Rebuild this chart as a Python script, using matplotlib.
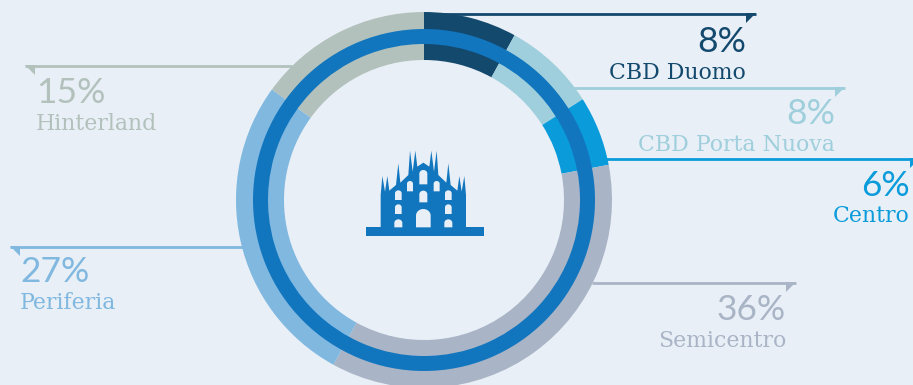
import matplotlib
matplotlib.use("Agg")
import matplotlib.pyplot as plt
from matplotlib.patches import Polygon, Rectangle
import numpy as np

# Share of the total per Milan district, clockwise from twelve o'clock
districts = ["CBD Duomo", "CBD Porta Nuova", "Centro", "Semicentro", "Periferia", "Hinterland"]
shares = [8, 8, 6, 36, 27, 15]
share_labels = ["8%", "8%", "6%", "36%", "27%", "15%"]
colors = ["#14496e", "#9fcfdc", "#0a9bdb", "#a9b4c6", "#80b8e0", "#b2c1bc"]

BG = "#e8eff6"
BLUE = "#1276bf"
H = 385
FONT = "DejaVu Serif"

fig = plt.figure(figsize=(9.13, 3.85), dpi=100, facecolor=BG)
ax = fig.add_axes([0, 0, 1, 1])
ax.set_facecolor(BG)

# Segmented ring with a solid band running through it
center = (424, H - 200)
ax.pie(shares, colors=colors, radius=188, center=center, startangle=90,
       counterclock=False, wedgeprops=dict(width=48, linewidth=0), frame=True)
ax.pie([1], colors=[BLUE], radius=171, center=center, startangle=90,
       wedgeprops=dict(width=15, linewidth=0), frame=True)
ax.set_xlim(0, 913)
ax.set_ylim(0, H)
ax.set_aspect("equal")
ax.axis("off")

# Leader line (x0, x1, y) and the direction of its end flag, per district
leaders = [(424, 756, 14, -1), (573, 845, 88, -1), (606, 920, 159, -1),
           (592, 796, 283, -1), (10, 243, 247, 1), (25, 292, 65.5, 1)]
for color, (x0, x1, y, side) in zip(colors, leaders):
    ax.plot([x0, x1], [H - y, H - y], color=color, lw=2.0, solid_capstyle="butt", zorder=1)
    tip = x1 if side < 0 else x0
    ax.add_patch(Polygon([(tip, H - y + 1), (tip + side * 10, H - y + 1),
                          (tip + side * 10, H - y - 9)], closed=True, fc=color, lw=0))

# Value and name next to each leader: anchor x, value baseline, name baseline
label_pos = [(746, 52, 79, "right"), (835, 124, 151, "right"), (910, 196, 222, "right"),
             (786, 320, 347, "right"), (20, 282, 309, "left"), (36, 103, 130, "left")]
for name, value, color, (x, yv, yn, ha) in zip(districts, share_labels, colors, label_pos):
    ax.text(x, H - yv, value, color=color, fontsize=25.5, family="Lato", ha=ha, va="baseline", fontweight="normal")
    ax.text(x, H - yn, name, color=color, fontsize=15.8, family=FONT, ha=ha, va="baseline")


# Duomo icon
def px(zx, zy):
    return 360 + zx / 3, H - (140 + zy / 3)


half = [(190, 68), (172, 80), (166, 32), (158, 95), (150, 32), (145, 105), (121, 128),
        (115, 70), (108, 135), (88, 152), (82, 108), (75, 155), (67, 108), (62, 165), (62, 262)]
right = [(380 - zx, zy) for zx, zy in half[1:]]
outline = half[::-1] + right
ax.add_patch(Polygon([px(*p) for p in outline], closed=True, fc=BLUE, lw=0))
ax.add_patch(Rectangle(px(18, 287), 118, 25 / 3, fc=BLUE, lw=0))


def window(cx, top, bottom, w):
    t = np.linspace(np.pi, 0, 24)
    arch_h = w * 0.9
    pts = [(cx + w * np.cos(a), top + arch_h - arch_h * np.sin(a)) for a in t]
    pts += [(cx + w, bottom), (cx - w, bottom)]
    ax.add_patch(Polygon([px(*p) for p in pts], closed=True, fc=BG, lw=0))


for cx, top, bottom, w in [(115, 151, 180, 10), (115, 193, 222, 10), (115, 238, 262, 12),
                           (150, 123, 154, 9), (190, 90, 133, 12), (190, 152, 187, 12),
                           (190, 207, 262, 22)]:
    window(cx, top, bottom, w)
    if cx != 190:
        window(380 - cx, top, bottom, w)

fig.savefig("out.png", dpi=100, facecolor=BG)
